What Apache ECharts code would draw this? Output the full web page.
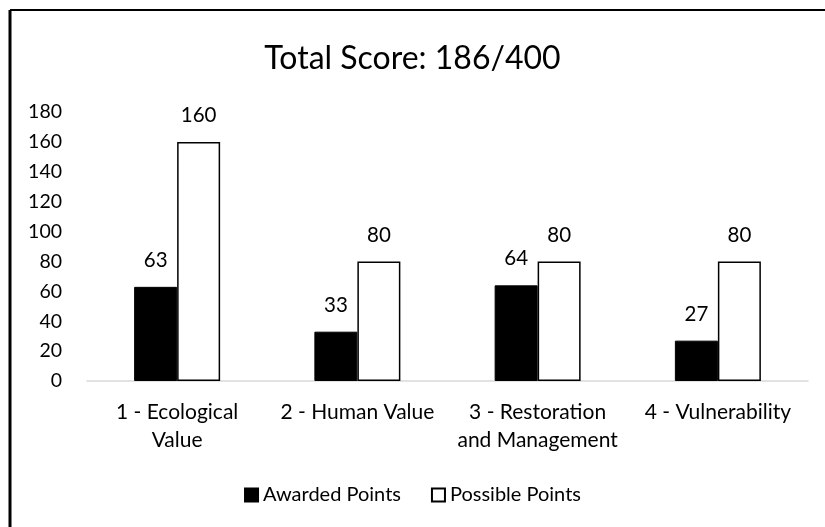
<!DOCTYPE html>
<html lang="en">
<head>
    <meta charset="UTF-8">
    <title>Total Score</title>
    <script src="https://cdn.jsdelivr.net/npm/echarts@6/dist/echarts.min.js"></script>
    <style>
        html, body { margin: 0; padding: 0; background: #fff; }
        #scoreChart { width: 825px; height: 527px; }
    </style>
</head>
<body>
<div id="scoreChart"></div>
<script type="text/javascript">
    // categories and values
    var categories = ['1 - Ecological\nValue', '2 - Human Value', '3 - Restoration\nand Management', '4 - Vulnerability'];
    var awardedPoints = [63, 33, 64, 27];
    var possiblePoints = [160, 80, 80, 80];
    var yTicks = [0, 20, 40, 60, 80, 100, 120, 140, 160, 180];

    var fontName = 'Lato';
    var myChart = echarts.init(document.getElementById('scoreChart'));

    var option = {
        animation: false,
        backgroundColor: '#fff',
        textStyle: { fontFamily: fontName, color: '#000' },
        title: {
            text: 'Total Score: 186/400',
            left: 'center',
            top: 38,
            textStyle: { fontFamily: fontName, fontSize: 32, fontWeight: 'normal', color: '#000' }
        },
        legend: {
            bottom: 17,
            left: 'center',
            icon: 'rect',
            itemWidth: 13,
            itemHeight: 13,
            itemGap: 30,
            textStyle: { fontFamily: fontName, fontSize: 20, color: '#000' },
            data: ['Awarded Points', 'Possible Points']
        },
        grid: {
            top: 112,
            left: 87,
            right: 17,
            bottom: 146
        },
        xAxis: {
            type: 'category',
            data: categories,
            axisTick: { show: false },
            axisLine: { lineStyle: { color: '#d9d9d9', width: 1.5 } },
            axisLabel: {
                fontFamily: fontName,
                fontSize: 21,
                color: '#000',
                lineHeight: 28,
                margin: 17,
                interval: 0
            }
        },
        yAxis: {
            type: 'value',
            min: yTicks[0],
            max: yTicks[yTicks.length - 1],
            interval: 20,
            axisLine: { show: false },
            axisTick: { show: false },
            splitLine: { show: false },
            axisLabel: { fontFamily: fontName, fontSize: 19.5, color: '#000', margin: 25 }
        },
        graphic: [
            // frame lines (top and left edge of the outer box)
            { type: 'line', shape: { x1: 10, y1: 10, x2: 825, y2: 10 }, style: { stroke: '#000', lineWidth: 2 } },
            { type: 'line', shape: { x1: 10, y1: 10, x2: 10, y2: 527 }, style: { stroke: '#000', lineWidth: 3 } }
        ],
        series: [
            {
                name: 'Awarded Points',
                type: 'bar',
                data: awardedPoints,
                barWidth: 43,
                barGap: '0%',
                itemStyle: { color: '#000', borderColor: '#000', borderWidth: 1 },
                label: { show: true, position: 'top', distance: 16, fontFamily: fontName, fontSize: 20.5, color: '#000' }
            },
            {
                name: 'Possible Points',
                type: 'bar',
                data: possiblePoints,
                barWidth: 43,
                barGap: '0%',
                itemStyle: { color: '#fff', borderColor: '#000', borderWidth: 1.5 },
                label: { show: true, position: 'top', distance: 16, fontFamily: fontName, fontSize: 20.5, color: '#000' }
            }
        ]
    };
    myChart.setOption(option, true);
</script>
</body>
</html>
